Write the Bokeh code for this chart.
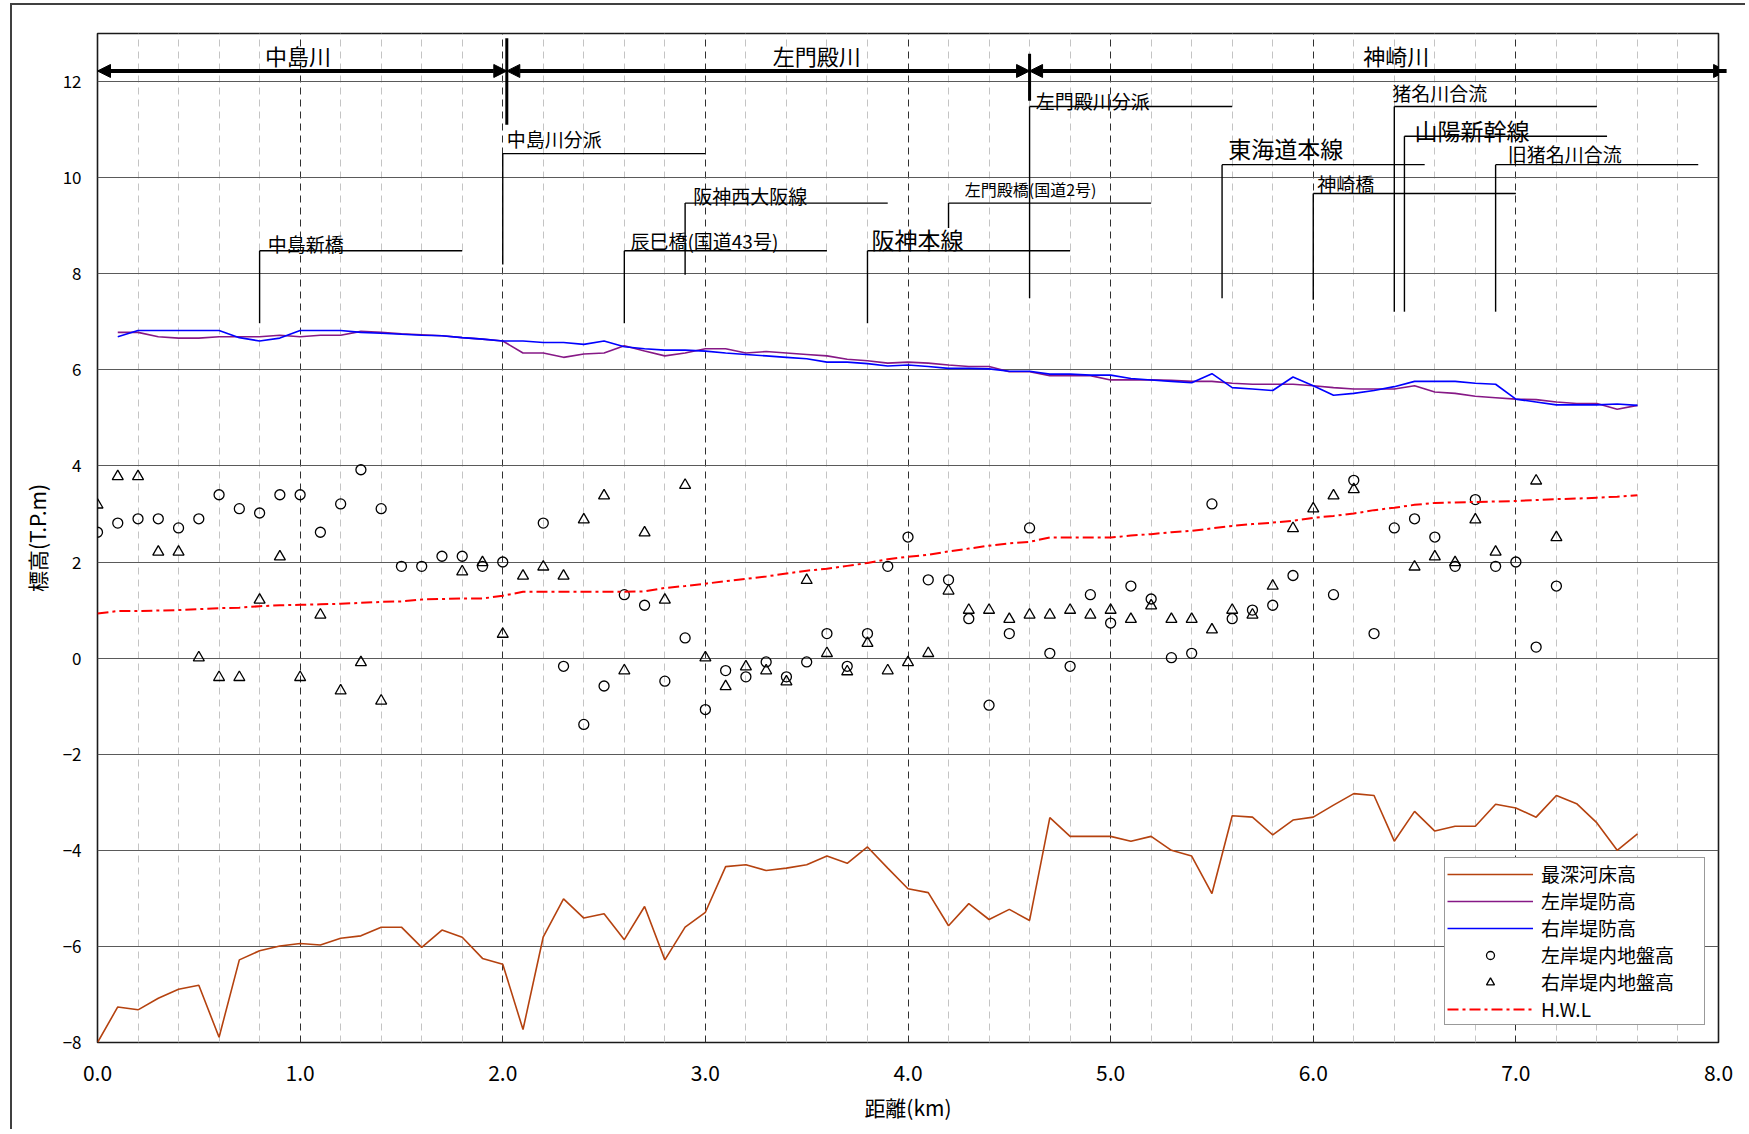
from bokeh.plotting import figure
from bokeh.models import (Range1d, FixedTicker, PrintfTickFormatter, Label, Arrow,
                          NormalHead, Legend, LegendItem)
from bokeh.embed import file_html
from bokeh.resources import INLINE

nan = float("nan")
FONT = "Noto Sans CJK JP"

# ---------------- data ----------------
km = [0.0, 0.1, 0.2, 0.3, 0.4, 0.5, 0.6, 0.7, 0.8, 0.9,
      1.0, 1.1, 1.2, 1.3, 1.4, 1.5, 1.6, 1.7, 1.8, 1.9,
      2.0, 2.1, 2.2, 2.3, 2.4, 2.5, 2.6, 2.7, 2.8, 2.9,
      3.0, 3.1, 3.2, 3.3, 3.4, 3.5, 3.6, 3.7, 3.8, 3.9,
      4.0, 4.1, 4.2, 4.3, 4.4, 4.5, 4.6, 4.7, 4.8, 4.9,
      5.0, 5.1, 5.2, 5.3, 5.4, 5.5, 5.6, 5.7, 5.8, 5.9,
      6.0, 6.1, 6.2, 6.3, 6.4, 6.5, 6.6, 6.7, 6.8, 6.9,
      7.0, 7.1, 7.2, 7.3, 7.4, 7.5, 7.6]

riverbed = [-8.00, -7.26, -7.32, -7.08, -6.89, -6.81, -7.89, -6.28, -6.09, -5.99,
            -5.94, -5.97, -5.83, -5.78, -5.60, -5.60, -6.02, -5.66, -5.81, -6.25,
            -6.37, -7.73, -5.80, -5.01, -5.41, -5.32, -5.86, -5.17, -6.28, -5.60,
            -5.29, -4.34, -4.30, -4.42, -4.37, -4.30, -4.12, -4.27, -3.93, -4.37,
            -4.80, -4.88, -5.57, -5.11, -5.44, -5.23, -5.46, -3.32, -3.71, -3.71,
            -3.71, -3.81, -3.71, -4.00, -4.12, -4.90, -3.28, -3.31, -3.68, -3.37,
            -3.31, -3.06, -2.82, -2.86, -3.81, -3.19, -3.60, -3.50, -3.50, -3.04,
            -3.12, -3.31, -2.86, -3.03, -3.43, -4.00, -3.66]

left_levee = [nan, 6.78, 6.78, 6.69, 6.66, 6.66, 6.69, 6.69, 6.69, 6.72,
              6.69, 6.72, 6.72, 6.80, 6.78, 6.75, 6.73, 6.71, 6.67, 6.64,
              6.60, 6.35, 6.35, 6.26, 6.33, 6.35, 6.50, 6.39, 6.29, 6.35,
              6.44, 6.44, 6.35, 6.38, 6.35, 6.32, 6.29, 6.22, 6.19, 6.14,
              6.16, 6.14, 6.10, 6.07, 6.07, 5.96, 5.96, 5.88, 5.88, 5.88,
              5.79, 5.79, 5.79, 5.78, 5.76, 5.76, 5.72, 5.70, 5.70, 5.70,
              5.67, 5.63, 5.60, 5.60, 5.60, 5.67, 5.54, 5.51, 5.45, 5.42,
              5.39, 5.38, 5.33, 5.30, 5.30, 5.18, 5.26]

right_levee = [nan, 6.69, 6.82, 6.82, 6.82, 6.82, 6.82, 6.67, 6.60, 6.66,
               6.82, 6.82, 6.82, 6.78, 6.76, 6.74, 6.72, 6.71, 6.67, 6.64,
               6.60, 6.60, 6.57, 6.57, 6.53, 6.60, 6.48, 6.44, 6.41, 6.41,
               6.39, 6.35, 6.32, 6.29, 6.26, 6.23, 6.16, 6.16, 6.13, 6.08,
               6.10, 6.07, 6.03, 6.03, 6.02, 5.97, 5.97, 5.91, 5.91, 5.89,
               5.89, 5.82, 5.79, 5.76, 5.73, 5.92, 5.63, 5.60, 5.57, 5.85,
               5.67, 5.47, 5.51, 5.57, 5.65, 5.76, 5.76, 5.76, 5.72, 5.70,
               5.39, 5.33, 5.27, 5.27, 5.27, 5.29, 5.26]

left_ground = [2.62, 2.81, 2.90, 2.90, 2.71, 2.90, 3.40, 3.11, 3.02, 3.40,
               3.40, 2.62, 3.21, 3.92, 3.11, 1.91, 1.91, 2.12, 2.12, 1.91,
               2.00, nan, 2.81, -0.17, -1.38, -0.58, 1.32, 1.10, -0.48, 0.42,
               -1.07, -0.26, -0.39, -0.08, -0.39, -0.08, 0.51, -0.17, 0.51, 1.91,
               2.52, 1.63, 1.63, 0.82, -0.98, 0.51, 2.71, 0.10, -0.17, 1.32,
               0.73, 1.50, 1.23, 0.01, 0.10, 3.21, 0.82, 1.00, 1.10, 1.72,
               nan, 1.32, 3.70, 0.51, 2.71, 2.90, 2.52, 1.91, 3.30, 1.91,
               2.00, 0.23, 1.50, nan, nan, nan, nan]

right_ground = [3.19, 3.78, 3.78, 2.21, 2.21, 0.01, -0.40, -0.40, 1.21, 2.11,
                -0.40, 0.90, -0.68, -0.09, -0.89, nan, nan, nan, 1.80, 1.99,
                0.50, 1.71, 1.90, 1.71, 2.88, 3.38, -0.26, 2.61, 1.21, 3.60,
                0.01, -0.59, -0.18, -0.26, -0.49, 1.62, 0.10, -0.28, 0.31, -0.26,
                -0.09, 0.10, 1.40, 1.00, 1.00, 0.81, 0.90, 0.90, 1.00, 0.90,
                1.00, 0.81, 1.09, 0.81, 0.81, 0.59, 1.00, 0.90, 1.50, 2.70,
                3.11, 3.38, 3.51, nan, nan, 1.90, 2.11, 1.99, 2.88, 2.21,
                nan, 3.69, 2.51, nan, nan, nan, nan]

hwl = [0.93, 0.98, 0.98, 0.99, 1.00, 1.02, 1.04, 1.05, 1.08, 1.10,
       1.11, 1.12, 1.13, 1.15, 1.17, 1.18, 1.22, 1.23, 1.24, 1.24,
       1.30, 1.38, 1.38, 1.38, 1.38, 1.38, 1.38, 1.39, 1.46, 1.50,
       1.55, 1.60, 1.65, 1.70, 1.76, 1.82, 1.86, 1.92, 1.98, 2.06,
       2.11, 2.15, 2.22, 2.28, 2.34, 2.39, 2.42, 2.51, 2.51, 2.51,
       2.51, 2.55, 2.58, 2.62, 2.65, 2.70, 2.75, 2.79, 2.82, 2.86,
       2.92, 2.96, 3.01, 3.08, 3.13, 3.19, 3.23, 3.24, 3.25, 3.26,
       3.27, 3.29, 3.31, 3.32, 3.34, 3.36, 3.39]

x_ticks = [0, 1, 2, 3, 4, 5, 6, 7, 8]
x_minor = [0.2, 0.4, 0.6, 0.8, 1.2, 1.4, 1.6, 1.8, 2.2, 2.4, 2.6, 2.8,
           3.2, 3.4, 3.6, 3.8, 4.2, 4.4, 4.6, 4.8, 5.2, 5.4, 5.6, 5.8,
           6.2, 6.4, 6.6, 6.8, 7.2, 7.4, 7.6, 7.8]
y_ticks = [-8, -6, -4, -2, 0, 2, 4, 6, 8, 10, 12]

series_labels = ["最深河床高", "左岸堤防高", "右岸堤防高", "左岸堤内地盤高", "右岸堤内地盤高", "H.W.L"]

# river sections (name, start km, end km, label km)
rivers = ["中島川", "左門殿川", "神崎川"]
river_start = [0.0, 2.02, 4.6]
river_end = [2.02, 4.6, 8.04]
river_label_x = [0.99, 3.55, 6.41]

# landmark brackets: text, stem x, bracket y, stem bottom y, bracket end x, label x, label y, font px
landmarks = [
    ("中島新橋", 0.80, 8.48, 6.97, 1.80, 0.84, 8.62, 19),
    ("中島川分派", 2.00, 10.50, 8.19, 3.00, 2.02, 10.81, 19),
    ("辰巳橋(国道43号)", 2.60, 8.48, 6.97, 3.60, 2.63, 8.70, 19),
    ("阪神西大阪線", 2.90, 9.47, 7.98, 3.90, 2.94, 9.63, 19),
    ("阪神本線", 3.80, 8.48, 6.97, 4.80, 3.82, 8.72, 23),
    ("左門殿橋(国道2号)", 4.20, 9.47, 8.95, 5.20, 4.28, 9.77, 16),
    ("左門殿川分派", 4.60, 11.48, 7.49, 5.60, 4.63, 11.60, 19),
    ("東海道本線", 5.55, 10.27, 7.49, 6.55, 5.58, 10.61, 23),
    ("神崎橋", 6.00, 9.67, 7.46, 7.00, 6.02, 9.88, 19),
    ("猪名川合流", 6.40, 11.48, 7.21, 7.40, 6.39, 11.78, 19),
    ("山陽新幹線", 6.45, 10.86, 7.21, 7.45, 6.50, 10.99, 23),
    ("旧猪名川合流", 6.90, 10.27, 7.21, 7.90, 6.96, 10.51, 19),
]

# ---------------- figure ----------------
p = figure(width=1735, height=1126, x_range=Range1d(0, 8), y_range=Range1d(-8, 13),
           output_backend="svg", toolbar_location=None,
           min_border_left=85, min_border_right=29, min_border_top=28, min_border_bottom=89)
p.styles = {"border-left": "2px solid #404040", "border-top": "2px solid #404040",
            "margin-left": "10px", "margin-top": "3px"}
p.background_fill_color = "white"
p.border_fill_color = "white"
p.outline_line_color = "#1a1a1a"
p.outline_line_width = 1.6

p.xaxis.ticker = FixedTicker(ticks=x_ticks, minor_ticks=x_minor)
p.xaxis.formatter = PrintfTickFormatter(format="%.1f")
p.yaxis.ticker = FixedTicker(ticks=y_ticks)
for ax in (p.xaxis, p.yaxis):
    ax.axis_line_color = None
    ax.major_tick_line_color = None
    ax.minor_tick_line_color = None
    ax.major_tick_out = 0
    ax.major_tick_in = 0
    ax.major_label_text_font = FONT
    ax.major_label_text_color = "black"
    ax.axis_label_text_font = FONT
    ax.axis_label_text_font_style = "normal"
    ax.axis_label_text_color = "black"
    ax.axis_label_text_font_size = "21px"
p.xaxis.major_label_text_font_size = "21px"
p.yaxis.major_label_text_font_size = "17px"
p.xaxis.major_label_standoff = 18
p.yaxis.major_label_standoff = 16
p.xaxis.axis_label = "距離(km)"
p.yaxis.axis_label = "標高(T.P.m)"
p.xaxis.axis_label_standoff = 8
p.yaxis.axis_label_standoff = 8

p.xgrid.grid_line_color = "#303030"
p.xgrid.grid_line_dash = "7 5"
p.xgrid.grid_line_width = 1
p.xgrid.minor_grid_line_color = "#c4c4c4"
p.xgrid.minor_grid_line_dash = "7 5"
p.xgrid.minor_grid_line_width = 1
p.ygrid.grid_line_color = "#5a5a5a"
p.ygrid.grid_line_width = 1

# ---------------- series ----------------
r_bed = p.line(km, riverbed, line_color="#b5420f", line_width=1.6)
r_left = p.line(km, left_levee, line_color="#861886", line_width=1.6)
r_right = p.line(km, right_levee, line_color="#0000ff", line_width=1.6)
r_lg = p.scatter(km, left_ground, marker="circle", size=10, fill_color=None,
                 line_color="black", line_width=1.3)
r_rg = p.scatter(km, right_ground, marker="triangle", size=11, fill_color=None,
                 line_color="black", line_width=1.3)
r_hwl = p.line(km, hwl, line_color="#ff0000", line_width=2, line_dash="11 4 3 4")

# ---------------- river section arrows ----------------
arrow_y = 12.22
for name, xs, xe, xl in zip(rivers, river_start, river_end, river_label_x):
    p.add_layout(Arrow(x_start=xs, y_start=arrow_y, x_end=xe, y_end=arrow_y,
                       line_width=4, line_color="black",
                       start=NormalHead(size=13, fill_color="black", line_color="black"),
                       end=NormalHead(size=13, fill_color="black", line_color="black")))
    p.add_layout(Label(x=xl, y=12.56, text=name, text_font=FONT, text_font_size="22px",
                       text_align="center", text_baseline="middle", text_color="black"))
# section boundaries
p.segment(x0=[2.02, 4.6], y0=[11.1, 11.6], x1=[2.02, 4.6], y1=[12.9, 12.58],
          line_color="black", line_width=3)

# ---------------- landmark brackets ----------------
sx, sy0, sy1, hx0, hx1, hy = [], [], [], [], [], []
for (txt, xv, yb, ybot, xend, tx, ty, fs) in landmarks:
    p.add_layout(Label(x=tx, y=ty, text=txt, text_font=FONT, text_font_size=f"{fs}px",
                       text_align="left", text_baseline="middle", text_color="black"))
    sx.append(xv); sy0.append(yb); sy1.append(ybot)
    hx0.append(xv); hx1.append(xend); hy.append(yb)
p.segment(x0=sx, y0=sy0, x1=sx, y1=sy1, line_color="black", line_width=1.4)
p.segment(x0=hx0, y0=hy, x1=hx1, y1=hy, line_color="black", line_width=1.4)

# ---------------- legend ----------------
legend = Legend(items=[LegendItem(label=series_labels[0], renderers=[r_bed]),
                       LegendItem(label=series_labels[1], renderers=[r_left]),
                       LegendItem(label=series_labels[2], renderers=[r_right]),
                       LegendItem(label=series_labels[3], renderers=[r_lg]),
                       LegendItem(label=series_labels[4], renderers=[r_rg]),
                       LegendItem(label=series_labels[5], renderers=[r_hwl])],
                location=(1347, 17))
legend.margin = 0
legend.padding = 2
legend.spacing = 0
legend.glyph_width = 86
legend.glyph_height = 20
legend.label_standoff = 8
legend.label_width = 161
legend.label_height = 20
legend.label_text_font = FONT
legend.label_text_font_size = "19px"
legend.label_text_color = "black"
legend.border_line_color = "#333333"
legend.border_line_width = 1.5
legend.background_fill_color = "white"
legend.background_fill_alpha = 1.0
p.add_layout(legend)

open("out.html", "w").write(file_html(p, INLINE))
